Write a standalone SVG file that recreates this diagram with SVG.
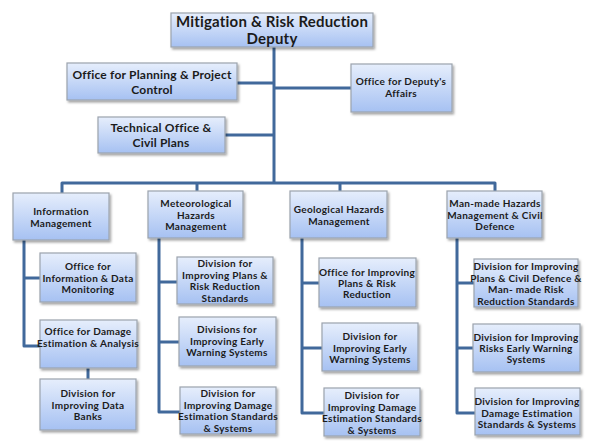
<svg xmlns="http://www.w3.org/2000/svg" width="599" height="446" viewBox="0 0 599 446">
<defs>
<linearGradient id="g" x1="0" y1="0" x2="0" y2="1">
<stop offset="0" stop-color="#e6eefc"/>
<stop offset="1" stop-color="#a6c1f2"/>
</linearGradient>
<filter id="sh" x="-10%" y="-10%" width="130%" height="140%">
<feDropShadow dx="1.5" dy="2" stdDeviation="1.2" flood-color="#000" flood-opacity="0.35"/>
</filter>
</defs>
<style>
.b{fill:url(#g);stroke:#9ba3ad;stroke-width:1.2;filter:url(#sh)}
text{font-family:Lato,"Liberation Sans",sans-serif;font-weight:bold;fill:#1b1b1b;text-anchor:middle;font-size:10px;letter-spacing:0.3px}
.t{font-size:15px;letter-spacing:0.2px}
.m{font-size:12px;letter-spacing:0.2px}
.c{fill:none;stroke:#41699b;stroke-width:3;stroke-linejoin:round}
</style>
<rect width="599" height="446" fill="#fff"/>
<g id="connectors" class="c">
<path d="M274,47 V183"/>
<path d="M237,83 H274"/>
<path d="M274,88 H351"/>
<path d="M225,135 H274"/>
<path d="M62,193 V183 H495 V191"/>
<path d="M197,183 V191"/>
<path d="M340,183 V191"/>
<path d="M24,240 V346 H40"/>
<path d="M24,278 H40"/>
<path d="M88,368 V379"/>
<path d="M159,238 V412 H180"/>
<path d="M159,282 H177"/>
<path d="M159,342 H179"/>
<path d="M302,238 V413 H324"/>
<path d="M302,283 H319"/>
<path d="M302,348 H322"/>
<path d="M457,238 V413 H475"/>
<path d="M457,283 H474"/>
<path d="M457,348 H473"/>
</g>
<g id="n-deputy"><rect class="b" x="171" y="13" width="202" height="34"/><text class="t" x="272" y="27">Mitigation &amp; Risk Reduction</text><text class="t" x="272" y="44">Deputy</text></g>
<g id="n-planning"><rect class="b" x="67" y="63" width="170" height="37"/><text class="m" x="152" y="79">Office for Planning  &amp; Project</text><text class="m" x="152" y="94">Control</text></g>
<g id="n-affairs"><rect class="b" x="351" y="64" width="101" height="48"/><text x="401" y="85">Office for Deputy's</text><text x="401" y="97">Affairs</text></g>
<g id="n-technical"><rect class="b" x="98" y="117" width="127" height="36"/><text class="m" x="161" y="132">Technical  Office  &amp;</text><text class="m" x="161" y="147">Civil Plans</text></g>
<g id="n-info"><rect class="b" x="13" y="193" width="96" height="47"/><text x="61" y="215">Information</text><text x="61" y="227">Management</text></g>
<g id="n-met"><rect class="b" x="148" y="191" width="95" height="47"/><text x="196" y="207">Meteorological</text><text x="196" y="219">Hazards</text><text x="196" y="230">Management</text></g>
<g id="n-geo"><rect class="b" x="290" y="191" width="97" height="47"/><text x="339" y="213">Geological Hazards</text><text x="339" y="225">Management</text></g>
<g id="n-man"><rect class="b" x="447" y="191" width="95" height="47"/><text x="495" y="207">Man-made Hazards</text><text x="495" y="219">Management &amp; Civil</text><text x="495" y="230">Defence</text></g>
<g id="n-info-data"><rect class="b" x="40" y="253" width="96" height="49"/><text x="88" y="270">Office for</text><text x="88" y="282">Information &amp; Data</text><text x="88" y="293">Monitoring</text></g>
<g id="n-damage-est"><rect class="b" x="40" y="320" width="97" height="48"/><text x="88" y="335">Office for Damage</text><text x="88" y="347">Estimation &amp; Analysis</text></g>
<g id="n-data-banks"><rect class="b" x="40" y="379" width="96" height="51"/><text x="88" y="397">Division for</text><text x="88" y="409">Improving Data</text><text x="88" y="420">Banks</text></g>
<g id="n-met-plans"><rect class="b" x="177" y="257" width="96" height="47"/><text x="225" y="267">Division for</text><text x="225" y="279">Improving Plans &amp;</text><text x="225" y="290">Risk Reduction</text><text x="225" y="302">Standards</text></g>
<g id="n-met-ew"><rect class="b" x="179" y="317" width="97" height="49"/><text x="227" y="333">Divisions for</text><text x="227" y="345">Improving Early</text><text x="227" y="356">Warning Systems</text></g>
<g id="n-met-dmg"><rect class="b" x="180" y="387" width="96" height="47"/><text x="228" y="397">Division for</text><text x="228" y="409">Improving Damage</text><text x="228" y="420">Estimation Standards</text><text x="228" y="432">&amp; Systems</text></g>
<g id="n-geo-plans"><rect class="b" x="319" y="258" width="97" height="49"/><text x="367" y="276">Office for Improving</text><text x="367" y="287">Plans &amp; Risk</text><text x="367" y="298">Reduction</text></g>
<g id="n-geo-ew"><rect class="b" x="322" y="323" width="96" height="48"/><text x="370" y="340">Division for</text><text x="370" y="352">Improving Early</text><text x="370" y="363">Warning Systems</text></g>
<g id="n-geo-dmg"><rect class="b" x="324" y="388" width="96" height="48"/><text x="372" y="399">Division for</text><text x="372" y="411">Improving Damage</text><text x="372" y="422">Estimation Standards</text><text x="372" y="434">&amp; Systems</text></g>
<g id="n-man-plans"><rect class="b" x="474" y="259" width="104" height="48"/><text x="526" y="270">Division for Improving</text><text x="526" y="282">Plans &amp; Civil Defence &amp;</text><text x="526" y="293">Man- made Risk</text><text x="526" y="305">Reduction Standards</text></g>
<g id="n-man-risk"><rect class="b" x="473" y="324" width="107" height="48"/><text x="526" y="341">Division for Improving</text><text x="526" y="352">Risks Early Warning</text><text x="526" y="363">Systems</text></g>
<g id="n-man-dmg"><rect class="b" x="475" y="388" width="105" height="47"/><text x="527" y="405">Division for Improving</text><text x="527" y="417">Damage Estimation</text><text x="527" y="428">Standards &amp; Systems</text></g>
</svg>
